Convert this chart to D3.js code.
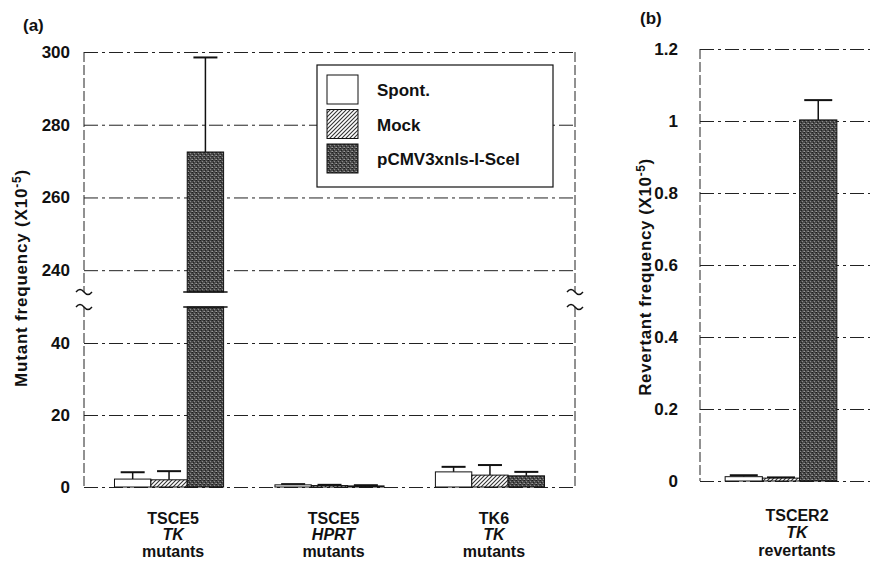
<!DOCTYPE html>
<html>
<head>
<meta charset="utf-8">
<script src="https://d3js.org/d3.v7.min.js"></script>
<style>
  body { margin: 0; background: #fff; }
  svg { display: block; font-family: Arial, "Liberation Sans", sans-serif; font-weight: bold; }
  .grid line { stroke: #222; stroke-width: 1; stroke-dasharray: 14,4,3,4; }
  .grid text { font-size: 17px; fill: #111; }
</style>
</head>
<body>
<svg width="870" height="563"></svg>
<script>

// panel (a) data
var groups = ["TSCE5 TK", "TSCE5 HPRT", "TK6 TK"];
var labelLine1 = ["TSCE5", "TSCE5", "TK6"];
var labelGene = ["TK", "HPRT", "TK"];
var labelLine3 = ["mutants", "mutants", "mutants"];
var series = ["Spont.", "Mock", "pCMV3xnls-I-SceI"];

var spont = [2.2, 0.6, 4.2];
var spontErr = [1.9, 0.2, 1.4];
var mock = [2.0, 0.4, 3.3];
var mockErr = [2.4, 0.2, 2.8];
var pcmv = [272.5, 0.3, 3.1];
var pcmvErr = [26.0, 0.2, 1.1];

var lowTicks = [0, 20, 40];
var highTicks = [240, 260, 280, 300];

// panel (b) data
var groupsB = ["TSCER2 TK"];
var labelB = ["TSCER2", "TK", "revertants"];
var valuesB = [0.012, 0.008, 1.003];
var errB = [0.004, 0.002, 0.055];
var ticksB = [0, 0.2, 0.4, 0.6, 0.8, 1.0, 1.2];

var svg = d3.select("svg");
var defs = svg.append("defs");

// hatch for Mock
var hatch = defs.append("pattern")
    .attr("id", "hatch")
    .attr("patternUnits", "userSpaceOnUse")
    .attr("width", 4).attr("height", 4);
hatch.append("rect").attr("width", 4).attr("height", 4).attr("fill", "#fff");
hatch.append("path")
    .attr("d", "M-1,1 L1,-1 M0,4 L4,0 M3,5 L5,3")
    .attr("stroke", "#333").attr("stroke-width", 1.1);

// stipple for pCMV
var stip = defs.append("pattern")
    .attr("id", "stipple")
    .attr("patternUnits", "userSpaceOnUse")
    .attr("width", 4).attr("height", 4);
stip.append("rect").attr("width", 4).attr("height", 4).attr("fill", "#4a4a4a");
[[0, 0, "#1e1e1e"], [2, 1, "#8a8a8a"], [1, 2, "#222"], [3, 3, "#777"], [3, 0, "#333"], [0, 3, "#999"]].forEach(function(p) {
  stip.append("rect").attr("x", p[0]).attr("y", p[1]).attr("width", 1).attr("height", 1).attr("fill", p[2]);
});

var fills = d3.scaleOrdinal().domain(series).range(["#fff", "url(#hatch)", "url(#stipple)"]);

// ---------------- panel (a) ----------------
var left = 84, right = 575;
var lowMax = 50, highMin = 234;

var yLow = d3.scaleLinear().domain([0, lowMax]).range([487, 307]);
var yHigh = d3.scaleLinear().domain([highMin, 300]).range([292, 52]);

var x0 = d3.scaleBand().domain(groups).range([left, right]).paddingInner(0.32).paddingOuter(0.19);
var x1 = d3.scaleBand().domain(series).range([0, x0.bandwidth()]);

var ga = svg.append("g");

ga.append("g")
    .attr("class", "grid")
    .attr("transform", "translate(" + left + ",0)")
    .call(d3.axisLeft(yLow).tickValues(lowTicks).tickSize(-(right - left)).tickPadding(14))
    .select(".domain").remove();

ga.append("g")
    .attr("class", "grid")
    .attr("transform", "translate(" + left + ",0)")
    .call(d3.axisLeft(yHigh).tickValues(highTicks).tickSize(-(right - left)).tickPadding(14))
    .select(".domain").remove();

// borders with a gap at the break
[left, right].forEach(function(xx) {
  ga.append("line").attr("x1", xx).attr("x2", xx).attr("y1", yHigh(300)).attr("y2", yHigh(highMin))
      .attr("stroke", "#222").attr("stroke-dasharray", "10,3");
  ga.append("line").attr("x1", xx).attr("x2", xx).attr("y1", yLow(lowMax)).attr("y2", yLow(0))
      .attr("stroke", "#222").attr("stroke-dasharray", "10,3");
  [yHigh(highMin), yLow(lowMax)].forEach(function(yy) {
    ga.append("path")
        .attr("d", "M" + (xx - 8) + "," + yy + " q4,-5 8,0 q4,5 8,0")
        .attr("fill", "none").attr("stroke", "#111").attr("stroke-width", 1.4);
  });
});

var rows = [];
groups.forEach(function(g, i) {
  rows.push({group: g, series: series[0], value: spont[i], err: spontErr[i]});
  rows.push({group: g, series: series[1], value: mock[i], err: mockErr[i]});
  rows.push({group: g, series: series[2], value: pcmv[i], err: pcmvErr[i]});
});

function yPos(v) { return v > lowMax ? yHigh(v) : yLow(v); }

rows.forEach(function(d) {
  var bx = x0(d.group) + x1(d.series), bw = x1.bandwidth();
  var cx = bx + bw / 2;
  var topErr = yPos(d.value + d.err);
  ga.append("line").attr("x1", cx).attr("x2", cx).attr("y1", yPos(d.value)).attr("y2", topErr)
      .attr("stroke", "#111").attr("stroke-width", 1.5);
  ga.append("line").attr("x1", cx - 12).attr("x2", cx + 12).attr("y1", topErr).attr("y2", topErr)
      .attr("stroke", "#111").attr("stroke-width", 2);
  if (d.value > lowMax) {
    ga.append("rect").attr("x", bx).attr("width", bw)
        .attr("y", yHigh(d.value)).attr("height", yHigh(highMin) - yHigh(d.value))
        .attr("fill", fills(d.series)).attr("stroke", "#111");
    ga.append("rect").attr("x", bx).attr("width", bw)
        .attr("y", yLow(lowMax)).attr("height", yLow(0) - yLow(lowMax))
        .attr("fill", fills(d.series)).attr("stroke", "#111");
    [yHigh(highMin), yLow(lowMax)].forEach(function(yy) {
      ga.append("line").attr("x1", bx - 4).attr("x2", bx + bw + 4).attr("y1", yy).attr("y2", yy)
          .attr("stroke", "#111").attr("stroke-width", 1.5);
    });
  } else {
    ga.append("rect").attr("x", bx).attr("width", bw)
        .attr("y", yLow(d.value)).attr("height", yLow(0) - yLow(d.value))
        .attr("fill", fills(d.series)).attr("stroke", "#111");
  }
});

// category labels
groups.forEach(function(g, i) {
  var t = ga.append("text")
      .attr("text-anchor", "middle")
      .attr("font-size", 16)
      .attr("fill", "#111");
  var cx = x0(g) + x0.bandwidth() / 2 + 4;
  t.append("tspan").attr("x", cx).attr("y", 524).text(labelLine1[i]);
  t.append("tspan").attr("x", cx).attr("y", 540).attr("font-style", "italic").text(labelGene[i]);
  t.append("tspan").attr("x", cx).attr("y", 557).text(labelLine3[i]);
});

ga.append("text")
    .attr("transform", "translate(27,278) rotate(-90)")
    .attr("text-anchor", "middle")
    .attr("font-size", 17)
    .attr("letter-spacing", 0.8)
    .attr("fill", "#111")
    .call(function(t) {
      t.append("tspan").text("Mutant frequency (X10");
      t.append("tspan").attr("font-size", 12).attr("dy", -6).text("-5");
      t.append("tspan").attr("dy", 6).text(")");
    });

ga.append("text").attr("x", 23).attr("y", 31).attr("font-size", 17).attr("fill", "#111").text("(a)");

// legend
var lg = ga.append("g");
lg.append("rect").attr("x", 317).attr("y", 65).attr("width", 236).attr("height", 122)
    .attr("fill", "#fff").attr("stroke", "#111").attr("stroke-width", 1.2);
series.forEach(function(s, i) {
  var yy = 75 + i * 34.5;
  lg.append("rect").attr("x", 327).attr("y", yy).attr("width", 31).attr("height", 29)
      .attr("fill", fills(s)).attr("stroke", "#111");
  lg.append("text").attr("x", 377).attr("y", yy + 21).attr("font-size", 17).attr("fill", "#111").text(s);
});

// ---------------- panel (b) ----------------
var leftB = 700, rightB = 862, edgeB = 870;
var yB = d3.scaleLinear().domain([0, 1.2]).range([481, 49]);
var xB0 = d3.scaleBand().domain(groupsB).range([leftB, rightB]).paddingInner(0).paddingOuter(0.225);
var xB1 = d3.scaleBand().domain(series).range([0, xB0.bandwidth()]);

var gb = svg.append("g");

gb.append("g")
    .attr("class", "grid")
    .attr("transform", "translate(" + leftB + ",0)")
    .call(d3.axisLeft(yB).tickValues(ticksB).tickFormat(d3.format("~g")).tickSize(-(edgeB - leftB)).tickPadding(22))
    .select(".domain").remove();

gb.append("line").attr("x1", leftB).attr("x2", leftB).attr("y1", yB(1.2)).attr("y2", yB(0))
    .attr("stroke", "#222").attr("stroke-dasharray", "10,3");

series.forEach(function(s, i) {
  var bx = xB0(groupsB[0]) + xB1(s), bw = xB1.bandwidth(), cx = bx + bw / 2;
  var v = valuesB[i], top = yB(v + errB[i]);
  gb.append("line").attr("x1", cx).attr("x2", cx).attr("y1", yB(v)).attr("y2", top)
      .attr("stroke", "#111").attr("stroke-width", 1.5);
  gb.append("line").attr("x1", cx - 14).attr("x2", cx + 14).attr("y1", top).attr("y2", top)
      .attr("stroke", "#111").attr("stroke-width", 2);
  gb.append("rect").attr("x", bx).attr("width", bw)
      .attr("y", yB(v)).attr("height", yB(0) - yB(v))
      .attr("fill", fills(s)).attr("stroke", "#111");
});

var tb = gb.append("text").attr("text-anchor", "middle").attr("font-size", 16).attr("fill", "#111");
tb.append("tspan").attr("x", 797).attr("y", 521).text(labelB[0]);
tb.append("tspan").attr("x", 797).attr("y", 538).attr("font-style", "italic").text(labelB[1]);
tb.append("tspan").attr("x", 797).attr("y", 556).text(labelB[2]);

gb.append("text")
    .attr("transform", "translate(651,277) rotate(-90)")
    .attr("text-anchor", "middle")
    .attr("font-size", 17)
    .attr("letter-spacing", 0.6)
    .attr("fill", "#111")
    .call(function(t) {
      t.append("tspan").text("Revertant frequency (X10");
      t.append("tspan").attr("font-size", 12).attr("dy", -6).text("-5");
      t.append("tspan").attr("dy", 6).text(")");
    });

gb.append("text").attr("x", 640).attr("y", 24).attr("font-size", 17).attr("fill", "#111").text("(b)");

</script>
</body>
</html>
